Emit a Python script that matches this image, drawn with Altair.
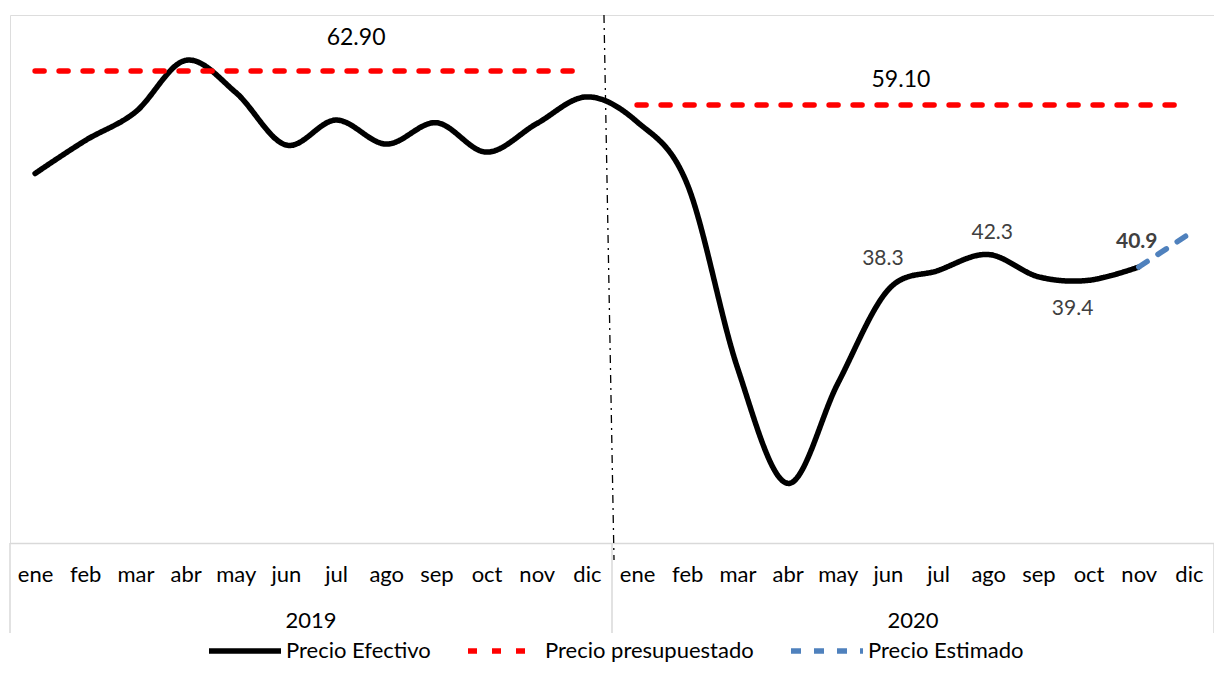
import json
import altair as alt
import pandas as pd

# ---------------- data ----------------
months = ["ene", "feb", "mar", "abr", "may", "jun", "jul", "ago", "sep", "oct", "nov", "dic"]
years = ["2019", "2020"]
# Precio Efectivo, ene-2019 .. nov-2020
precio_efectivo = [51.4, 55.1, 58.3, 64.1, 60.5, 54.6, 57.4, 54.7, 57.1, 53.8, 57.0, 60.0,
                   57.2, 50.2, 29.6, 16.6, 27.8, 38.3, 40.5, 42.3, 39.8, 39.4, 40.9]
precio_presupuestado = [62.90, 59.10]          # 2019, 2020
precio_estimado = [40.9, 44.6]                 # nov-2020, dic-2020
estimado_idx = [22, 23]
etiquetas_idx = [17, 19, 21, 22]               # jun, ago, oct, nov 2020
series_names = ["Precio Efectivo", "Precio presupuestado", "Precio Estimado"]
series_colors = ["#000000", "#FF0000", "#4F81BD"]
series_dash = [[1, 0], [9, 15], [10, 13]]

W, H = 1204, 528
FONT = "Lato"
N = 12 * len(years)

rows = []
for i, v in enumerate(precio_efectivo):
    rows.append({"idx": i, "valor": v, "serie": series_names[0], "tramo": "ef"})
for k, v in enumerate(precio_presupuestado):
    for i in (12 * k, 12 * k + 11):
        rows.append({"idx": i, "valor": v, "serie": series_names[1], "tramo": f"pp{k}"})
for i, v in zip(estimado_idx, precio_estimado):
    rows.append({"idx": i, "valor": v, "serie": series_names[2], "tramo": "es"})
lines_df = pd.DataFrame(rows)

xscale = alt.Scale(domain=[-0.5, N - 0.5], nice=False, zero=False)
yscale = alt.Scale(domain=[9.9, 69.2], nice=False, zero=False)

month_expr = json.dumps(months) + "[datum.value % 12]"

x_axis = alt.Axis(values=list(range(N)), labelExpr=month_expr, ticks=False, grid=False,
                  domainColor="#D9D9D9", domainWidth=1.5, labelFontSize=22, labelFont=FONT,
                  labelColor="#000000", labelPadding=21, title=None, labelFlush=False,
                  labelOverlap=False, labelBaseline="top")

# horizontal stroke symbol, 3 units long on each side -> length = 3*sqrt(size)
legend = alt.Legend(title=None, orient="none", legendX=220, legendY=621, direction="horizontal",
                    symbolType="M-3,0H3", symbolSize=576, symbolStrokeWidth=5.5,
                    labelFontSize=22, labelFont=FONT, labelColor="#000000", labelLimit=400,
                    columnPadding=26, labelOffset=26)

line = alt.Chart(lines_df).mark_line(interpolate="cardinal", strokeWidth=5.5, strokeCap="round",
                                     strokeJoin="round").encode(
    x=alt.X("idx:Q", scale=xscale, axis=x_axis),
    y=alt.Y("valor:Q", scale=yscale, axis=None),
    color=alt.Color("serie:N", scale=alt.Scale(domain=series_names, range=series_colors), legend=legend),
    strokeDash=alt.StrokeDash("serie:N", scale=alt.Scale(domain=series_names, range=series_dash), legend=legend),
    detail="tramo:N",
)

# frame of the category axis
bordes_df = pd.DataFrame({"idx": [12 * k - 0.5 for k in range(len(years) + 1)]})
frame = alt.Chart(bordes_df).mark_rule(color="#D9D9D9", strokeWidth=1.5).encode(
    x=alt.X("idx:Q", scale=xscale), y=alt.value(H), y2=alt.value(H + 90))

# year separator (dash-dot)
sep_df = pd.DataFrame({"x1": [11.5 - 0.16], "x2": [11.5 + 0.04]})
separator = alt.Chart(sep_df).mark_rule(color="#000000", strokeWidth=1.3, strokeDash=[8, 5, 2, 5]).encode(
    x=alt.X("x1:Q", scale=xscale), x2="x2:Q", y=alt.value(0), y2=alt.value(H + 17))

# year labels
years_df = pd.DataFrame({"idx": [12 * k + 5.5 for k in range(len(years))], "anio": years})
year_text = alt.Chart(years_df).mark_text(fontSize=22, font=FONT, color="#000000", baseline="middle").encode(
    x=alt.X("idx:Q", scale=xscale), y=alt.value(H + 78), text="anio:N")


def label(idx, valor, texto, dx, dy, color, size, weight="normal"):
    df = pd.DataFrame({"idx": [idx], "valor": [valor], "t": [texto]})
    return alt.Chart(df).mark_text(dx=dx, dy=dy, color=color, fontSize=size, font=FONT,
                                   fontWeight=weight, baseline="middle", align="center").encode(
        x=alt.X("idx:Q", scale=xscale), y=alt.Y("valor:Q", scale=yscale), text="t:N")


labels = [
    label(6, precio_presupuestado[0], f"{precio_presupuestado[0]:.2f}", 20, -33, "#000000", 23),
    label(17, precio_presupuestado[1], f"{precio_presupuestado[1]:.2f}", 13, -25, "#000000", 23),
]
offsets = {17: (-5, -31), 19: (4, -22), 21: (-16, 29), 22: (-2, -25)}
for i in etiquetas_idx:
    dx, dy = offsets[i]
    bold = i == etiquetas_idx[-1]
    labels.append(label(i, precio_efectivo[i], f"{precio_efectivo[i]:.1f}", dx, dy, "#404040", 21,
                        "bold" if bold else "normal"))

chart = alt.layer(frame, separator, line, year_text, *labels).properties(
    width=W, height=H,
    autosize=alt.AutoSizeParams(type="none"),
    padding={"left": 2, "top": 7, "right": 0, "bottom": 121},
).configure_view(stroke=None).configure(background="#FFFFFF")

chart.save("out.html", embed_options={"renderer": "svg", "actions": False})
